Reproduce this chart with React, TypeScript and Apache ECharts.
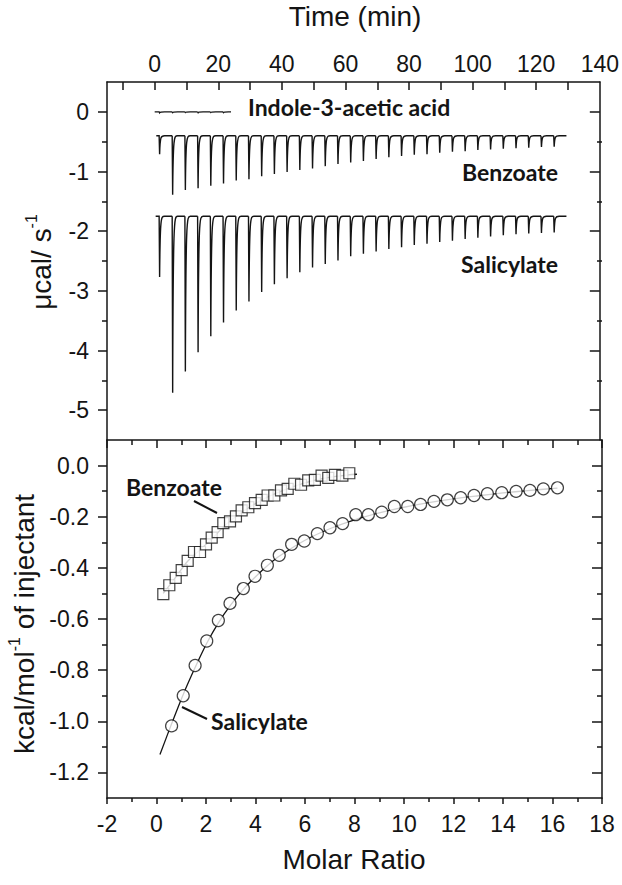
import React, { useEffect, useRef } from 'react';
import * as echarts from 'echarts';

// ---------- Top panel: raw ITC thermograms ----------
const injectionTimes = [1.4, 5.5, 9.5, 13.5, 17.5, 21.5, 25.5, 29.5, 33.5, 37.5, 41.5, 45.5, 49.5, 53.5, 57.5, 61.5,
  65.5, 69.5, 73.5, 77.5, 81.5, 85.5, 89.5, 93.5, 97.5, 101.5, 105.5, 109.5, 113.5, 117.5, 121.5, 125.5];
const benzoatePeaks = [-0.71, -1.39, -1.31, -1.28, -1.24, -1.2, -1.15, -1.13, -1.08, -1.04, -1.01, -0.975, -0.95, -0.91,
  -0.875, -0.85, -0.825, -0.79, -0.76, -0.74, -0.72, -0.71, -0.685, -0.67, -0.66, -0.64, -0.63, -0.62, -0.61, -0.6, -0.59, -0.585];
const salicylatePeaks = [-2.77, -4.71, -4.35, -4.03, -3.76, -3.53, -3.33, -3.18, -3.02, -2.89, -2.79, -2.69, -2.61, -2.55,
  -2.49, -2.42, -2.38, -2.34, -2.3, -2.27, -2.23, -2.21, -2.18, -2.16, -2.13, -2.11, -2.09, -2.07, -2.05, -2.04, -2.03, -2.02];
const indoleTimes = [1.4, 5.5, 9.5, 13.5, 17.5, 21.5];
const indolePeaks = [-0.015, -0.012, -0.01, -0.014, -0.01, -0.012];
const indoleBaseline = 0;
const benzoateBaseline = -0.4;
const salicylateBaseline = -1.75;
const indoleSpan = [0, 24];
const benzoateSpan = [0.5, 129.5];
const salicylateSpan = [0.3, 129.5];

// ---------- Bottom panel: integrated heats ----------
const salicylateRatio = [0.61, 1.08, 1.56, 2.03, 2.5, 2.97, 3.51, 3.98, 4.48, 4.96, 5.46, 5.97, 6.5, 7.01, 7.52, 8.05,
  8.56, 9.1, 9.61, 10.15, 10.67, 11.21, 11.75, 12.29, 12.83, 13.37, 13.95, 14.53, 15.09, 15.63, 16.2];
const salicylateHeat = [-1.018, -0.9, -0.782, -0.686, -0.606, -0.539, -0.481, -0.433, -0.39, -0.351, -0.308, -0.295,
  -0.266, -0.243, -0.227, -0.192, -0.192, -0.182, -0.16, -0.16, -0.152, -0.14, -0.134, -0.126, -0.117, -0.11, -0.106,
  -0.101, -0.097, -0.091, -0.087];
const salicylateFitRatio = [0.14, 0.61, 1.08, 1.56, 2.03, 2.5, 3.0, 3.5, 4.0, 4.5, 5.0, 6.0, 7.0, 8.0, 9.0, 10.0, 11.0,
  12.0, 13.0, 14.0, 15.0, 16.2];
const salicylateFitHeat = [-1.13, -1.01, -0.895, -0.79, -0.695, -0.615, -0.545, -0.485, -0.435, -0.39, -0.352, -0.292,
  -0.247, -0.212, -0.185, -0.163, -0.145, -0.13, -0.118, -0.107, -0.098, -0.088];
const benzoateRatio = [0.275, 0.517, 0.776, 1.018, 1.26, 1.515, 1.758, 2.0, 2.23, 2.47, 2.7, 2.97, 3.21, 3.44, 3.71,
  3.98, 4.25, 4.49, 4.76, 5.03, 5.3, 5.57, 5.84, 6.13, 6.4, 6.67, 6.94, 7.21, 7.51, 7.79];
const benzoateHeat = [-0.503, -0.468, -0.439, -0.409, -0.373, -0.338, -0.338, -0.308, -0.282, -0.26, -0.225, -0.218,
  -0.199, -0.175, -0.163, -0.147, -0.134, -0.117, -0.117, -0.097, -0.091, -0.071, -0.075, -0.058, -0.056, -0.039,
  -0.048, -0.036, -0.039, -0.03];
const benzoateFitRatio = [0.27, 0.75, 1.25, 1.75, 2.25, 2.75, 3.25, 3.75, 4.25, 4.75, 5.25, 5.75, 6.25, 6.75, 7.25, 7.75, 8.1];
const benzoateFitHeat = [-0.5, -0.44, -0.375, -0.33, -0.285, -0.235, -0.196, -0.163, -0.135, -0.112, -0.092, -0.075,
  -0.061, -0.05, -0.042, -0.036, -0.034];

// ---------- Tick values ----------
const timeTickValues = [-10, 0, 10, 20, 30, 40, 50, 60, 70, 80, 90, 100, 110, 120, 130];
const timeLabelValues = [0, 20, 40, 60, 80, 100, 120, 140];
const heatMajor = [-5, -4, -3, -2, -1, 0];
const heatMinor = [-4.5, -3.5, -2.5, -1.5, -0.5];
const enthMajor = [-1.2, -1.0, -0.8, -0.6, -0.4, -0.2, 0];
const enthMinor = [-1.1, -0.9, -0.7, -0.5, -0.3, -0.1];

const INK = '#141414';
const TICK_FONT = 'Liberation Sans, Arial, sans-serif';
const ANNOT_FONT = 'Lato, Open Sans, sans-serif';

const zip = (a: number[], b: number[]) => a.map((v, i) => [v, b[i]]);

const traceData = (times: number[], peaks: number[], base: number, span: number[]) =>
  times.map((t, i) => [t, base, peaks[i], i + 1 < times.length ? times[i + 1] : span[1], i === 0 ? span[0] : t]);

const renderSpike = (_params: any, api: any) => {
  const t = api.value(0);
  const base = api.value(1);
  const peak = api.value(2);
  const tNext = api.value(3);
  const tStart = api.value(4);
  const P = (x: number, y: number) => {
    const c = api.coord([x, y]);
    return c[0].toFixed(2) + ' ' + c[1].toFixed(2);
  };
  const tRec = Math.min(t + 1.7, tNext);
  const d = `M ${P(tStart, base)} L ${P(t, base)} L ${P(t + 0.15, peak)} C ${P(t + 0.3, base)} ${P(t + 0.6, base)} ${P(tRec, base)} L ${P(tNext, base)}`;
  return {
    type: 'path',
    shape: { pathData: d },
    style: { fill: 'none', stroke: INK, lineWidth: 1.4 },
    silent: true,
  };
};

const lineStyle = { color: INK, width: 1.5 };

const yAxisCfg = (o: any) => ({
  type: 'value',
  gridIndex: o.grid,
  position: o.position,
  min: o.min,
  max: o.max,
  splitLine: { show: false },
  axisLine: { show: o.line !== false, onZero: false, lineStyle },
  axisTick: { show: true, inside: o.inside, length: o.length, customValues: o.ticks, lineStyle },
  axisLabel: o.labels
    ? {
        show: true,
        customValues: o.labels,
        formatter: o.formatter,
        margin: 18,
        fontSize: 23,
        fontFamily: TICK_FONT,
        color: INK,
      }
    : { show: false },
});

const titleRich = {
  n: { fontSize: 28, fontFamily: TICK_FONT, fill: INK, lineHeight: 32, verticalAlign: 'bottom' },
  s: { fontSize: 16, fontFamily: TICK_FONT, fill: INK, lineHeight: 17, verticalAlign: 'top' },
};

export default function App() {
  const ref = useRef<HTMLDivElement>(null);
  useEffect(() => {
    if (!ref.current) return;
    const chart = echarts.init(ref.current, undefined, { renderer: 'svg' });
    const option: any = {
      animation: false,
      backgroundColor: '#ffffff',
      grid: [
        { left: 107, top: 82, width: 495, height: 358 },
        { left: 107, top: 440, width: 495, height: 358 },
        { left: 107, top: 82, width: 495, height: 358 },
        { left: 107, top: 440, width: 495, height: 358 },
      ],
      xAxis: [
        {
          type: 'value', gridIndex: 0, position: 'top', min: -15, max: 140,
          splitLine: { show: false },
          axisLine: { show: true, onZero: false, lineStyle },
          axisTick: { show: true, inside: true, length: 8, customValues: timeTickValues, lineStyle },
          axisLabel: { show: true, customValues: timeLabelValues, margin: 7, fontSize: 23, fontFamily: TICK_FONT, color: INK },
        },
        {
          type: 'value', gridIndex: 1, position: 'bottom', min: -2, max: 18, interval: 2,
          splitLine: { show: false },
          axisLine: { show: true, onZero: false, lineStyle },
          axisTick: { show: true, inside: false, length: 6, lineStyle },
          minorTick: { show: true, splitNumber: 2, length: 4, lineStyle },
          axisLabel: { show: true, margin: 14, fontSize: 23, fontFamily: TICK_FONT, color: INK },
        },
        {
          type: 'value', gridIndex: 1, position: 'top', min: -2, max: 18, interval: 2,
          splitLine: { show: false },
          axisLine: { show: true, onZero: false, lineStyle },
          axisTick: { show: true, inside: true, length: 8, lineStyle },
          minorTick: { show: true, splitNumber: 2, length: 5, lineStyle },
          axisLabel: { show: false },
        },
        { type: 'value', gridIndex: 2, show: false, min: 0, max: 1 },
        { type: 'value', gridIndex: 3, show: false, min: 0, max: 1 },
      ],
      yAxis: [
        yAxisCfg({ grid: 0, position: 'left', min: -5.5, max: 0.5, inside: false, length: 9, ticks: heatMajor, labels: heatMajor,
          formatter: (v: number) => String(Math.round(v)) }),
        yAxisCfg({ grid: 0, position: 'right', min: -5.5, max: 0.5, inside: true, length: 10, ticks: heatMajor }),
        yAxisCfg({ grid: 1, position: 'left', min: -1.3, max: 0.1, inside: false, length: 9, ticks: enthMajor, labels: enthMajor,
          formatter: (v: number) => (Math.abs(v) < 1e-9 ? '0.0' : v.toFixed(1)) }),
        yAxisCfg({ grid: 1, position: 'right', min: -1.3, max: 0.1, inside: true, length: 10, ticks: enthMajor }),
        yAxisCfg({ grid: 2, position: 'left', min: -5.5, max: 0.5, inside: false, length: 5, ticks: heatMinor, line: false }),
        yAxisCfg({ grid: 2, position: 'right', min: -5.5, max: 0.5, inside: true, length: 5, ticks: heatMinor, line: false }),
        yAxisCfg({ grid: 3, position: 'left', min: -1.3, max: 0.1, inside: false, length: 5, ticks: enthMinor, line: false }),
        yAxisCfg({ grid: 3, position: 'right', min: -1.3, max: 0.1, inside: true, length: 5, ticks: enthMinor, line: false }),
      ],
      series: [
        {
          name: 'Indole-3-acetic acid', type: 'custom', xAxisIndex: 0, yAxisIndex: 0,
          renderItem: renderSpike, encode: { x: 0, y: 1 }, clip: false,
          data: traceData(indoleTimes, indolePeaks, indoleBaseline, indoleSpan),
        },
        {
          name: 'Benzoate thermogram', type: 'custom', xAxisIndex: 0, yAxisIndex: 0,
          renderItem: renderSpike, encode: { x: 0, y: 1 }, clip: false,
          data: traceData(injectionTimes, benzoatePeaks, benzoateBaseline, benzoateSpan),
        },
        {
          name: 'Salicylate thermogram', type: 'custom', xAxisIndex: 0, yAxisIndex: 0,
          renderItem: renderSpike, encode: { x: 0, y: 1 }, clip: false,
          data: traceData(injectionTimes, salicylatePeaks, salicylateBaseline, salicylateSpan),
        },
        {
          name: 'Salicylate fit', type: 'line', xAxisIndex: 1, yAxisIndex: 2, smooth: 0.3,
          showSymbol: false, symbol: 'none', z: 2,
          lineStyle: { color: INK, width: 1.3 },
          data: zip(salicylateFitRatio, salicylateFitHeat),
        },
        {
          name: 'Benzoate fit', type: 'line', xAxisIndex: 1, yAxisIndex: 2, smooth: 0.3,
          showSymbol: false, symbol: 'none', z: 2,
          lineStyle: { color: INK, width: 1.3 },
          data: zip(benzoateFitRatio, benzoateFitHeat),
        },
        {
          name: 'Salicylate', type: 'scatter', xAxisIndex: 1, yAxisIndex: 2, z: 3,
          symbol: 'circle', symbolSize: 12,
          itemStyle: { color: '#ffffff', borderColor: '#111', borderWidth: 1.2 },
          data: zip(salicylateRatio, salicylateHeat),
        },
        {
          name: 'Benzoate', type: 'scatter', xAxisIndex: 1, yAxisIndex: 2, z: 3,
          symbol: 'rect', symbolSize: 11,
          itemStyle: { color: '#ffffff', borderColor: '#111', borderWidth: 1.2 },
          data: zip(benzoateRatio, benzoateHeat),
        },
      ],
      graphic: [
        {
          type: 'text', x: 355, y: 16,
          style: { text: 'Time (min)', fontSize: 28, fontFamily: TICK_FONT, fill: INK, align: 'center', verticalAlign: 'middle', textAlign: 'center', textVerticalAlign: 'middle' },
        },
        {
          type: 'text', x: 354, y: 859,
          style: { text: 'Molar Ratio', fontSize: 28, fontFamily: TICK_FONT, fill: INK, align: 'center', verticalAlign: 'middle', textAlign: 'center', textVerticalAlign: 'middle' },
        },
        {
          type: 'text', x: 39, y: 262, rotation: Math.PI / 2,
          style: {
            text: '{n|μcal/ s}{s|-1}', fill: INK, align: 'center', verticalAlign: 'middle', textAlign: 'center', textVerticalAlign: 'middle',
            rich: titleRich,
          },
        },
        {
          type: 'text', x: 22, y: 624, rotation: Math.PI / 2,
          style: {
            text: '{n|kcal/mol}{s|-1}{n| of injectant}', fill: INK, align: 'center', verticalAlign: 'middle', textAlign: 'center', textVerticalAlign: 'middle',
            rich: titleRich,
          },
        },
        {
          type: 'text', x: 248, y: 107,
          style: { text: 'Indole-3-acetic acid', fontSize: 23, fontWeight: 'bold', fontFamily: ANNOT_FONT, fill: INK, align: 'left', verticalAlign: 'middle', textAlign: 'left', textVerticalAlign: 'middle' },
        },
        {
          type: 'text', x: 558, y: 172,
          style: { text: 'Benzoate', fontSize: 23, fontWeight: 'bold', fontFamily: ANNOT_FONT, fill: INK, align: 'right', verticalAlign: 'middle', textAlign: 'right', textVerticalAlign: 'middle' },
        },
        {
          type: 'text', x: 558, y: 264,
          style: { text: 'Salicylate', fontSize: 23, fontWeight: 'bold', fontFamily: ANNOT_FONT, fill: INK, align: 'right', verticalAlign: 'middle', textAlign: 'right', textVerticalAlign: 'middle' },
        },
        {
          type: 'text', x: 126, y: 487,
          style: { text: 'Benzoate', fontSize: 23, fontWeight: 'bold', fontFamily: ANNOT_FONT, fill: INK, align: 'left', verticalAlign: 'middle', textAlign: 'left', textVerticalAlign: 'middle' },
        },
        {
          type: 'text', x: 211, y: 721,
          style: { text: 'Salicylate', fontSize: 23, fontWeight: 'bold', fontFamily: ANNOT_FONT, fill: INK, align: 'left', verticalAlign: 'middle', textAlign: 'left', textVerticalAlign: 'middle' },
        },
        { type: 'line', shape: { x1: 194, y1: 501, x2: 217, y2: 513 }, style: { stroke: INK, lineWidth: 2 } },
        { type: 'line', shape: { x1: 182, y1: 707, x2: 207, y2: 719 }, style: { stroke: INK, lineWidth: 2 } },
      ],
    };
    chart.setOption(option);
    return () => chart.dispose();
  }, []);
  return (
    <div
      ref={ref}
      style={{ position: 'absolute', left: 0, top: 0, width: 622, height: 885, background: '#fff' }}
    />
  );
}
